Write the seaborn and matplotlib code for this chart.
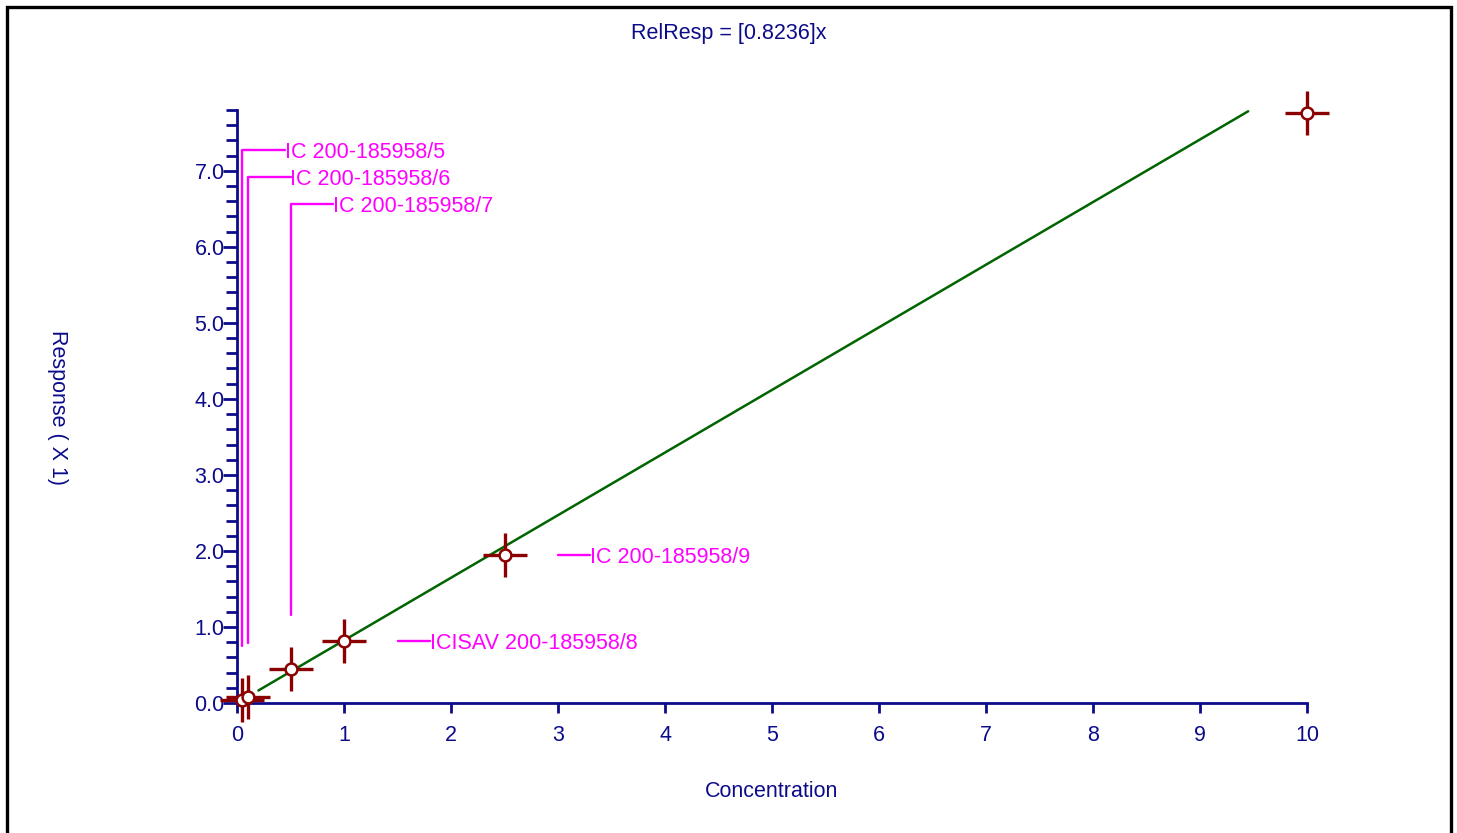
import numpy as np
import matplotlib
matplotlib.use('Agg')
import matplotlib.pyplot as plt
import seaborn as sns
from matplotlib.patches import Rectangle
from matplotlib.ticker import MultipleLocator

# calibration points
conc = [0.05, 0.1, 0.5, 1.0, 2.5, 10.0]
resp = [0.04, 0.08, 0.45, 0.81, 1.95, 7.76]
names = ['IC 200-185958/5', 'IC 200-185958/6', 'IC 200-185958/7',
         'ICISAV 200-185958/8', 'IC 200-185958/9', '']
# height of the label for the points that get a vertical leader
label_top = [7.27, 6.92, 6.57]

slope = 0.8236
fit_x = [0.2, 9.45]
fit_y = [slope * v for v in fit_x]

navy = '#0c0c8a'
fs = 15.5
sns.set_style('white')
plt.rcParams['font.family'] = ['Liberation Sans', 'DejaVu Sans']
plt.rcParams['font.size'] = fs

fig = plt.figure(figsize=(14.57, 8.33), dpi=100)
ax = fig.add_axes([237 / 1457, 130 / 833, 1070 / 1457, 593 / 833])

sns.lineplot(x=fit_x, y=fit_y, ax=ax, color='#006400', lw=1.8)

# crosshair + open circle markers
ax.plot(conc, resp, ls='none', marker='+', ms=31, mew=2.4, color='#8b0000', clip_on=False, zorder=4)
ax.plot(conc, resp, ls='none', marker='o', ms=8.5, mew=1.8, mfc='white', mec='#8b0000', clip_on=False, zorder=5)

mag = '#ff00ff'
for i, name in enumerate(names):
    if not name:
        continue
    if i < len(label_top):
        top = label_top[i]
        ax.plot([conc[i], conc[i], conc[i] + 0.4], [resp[i] + 0.71, top, top], color=mag, lw=1.7)
        ax.text(conc[i] + 0.4, top, name, color=mag, va='center_baseline', ha='left', fontsize=fs)
    else:
        ax.plot([conc[i] + 0.5, conc[i] + 0.8], [resp[i], resp[i]], color=mag, lw=1.7)
        ax.text(conc[i] + 0.8, resp[i], name, color=mag, va='center_baseline', ha='left', fontsize=fs)

ax.set_xlim(0, 10)
ax.set_ylim(0, 7.8)
ax.set_xticks(range(0, 11))
ax.yaxis.set_major_locator(MultipleLocator(1.0))
ax.yaxis.set_minor_locator(MultipleLocator(0.2))
ax.yaxis.set_major_formatter(matplotlib.ticker.FormatStrFormatter('%.1f'))
ax.tick_params(axis='x', bottom=True, direction='out', length=7, width=2, color=navy, labelcolor=navy, labelsize=fs, pad=9)
ax.tick_params(axis='y', which='major', left=True, direction='out', length=10, width=2, color=navy, labelcolor=navy, labelsize=fs, pad=-1)
ax.tick_params(axis='y', which='minor', left=True, direction='out', length=8, width=2, color=navy)
for s in ['top', 'right']:
    ax.spines[s].set_visible(False)
for s in ['left', 'bottom']:
    ax.spines[s].set_color(navy)
    ax.spines[s].set_linewidth(2)

ax.set_xlabel('Concentration', color=navy, fontsize=fs, labelpad=25)
fig.text(57 / 1457, 1 - 408 / 833, 'Response ( X 1)', rotation=270, color=navy,
         fontsize=fs, ha='center', va='center')
fig.text(0.5, 1 - 33 / 833, 'RelResp = [0.8236]x', color=navy, fontsize=fs, ha='center', va='center')

fig.patches.append(Rectangle((6.5 / 1457, -0.05), (1451 - 6.5) / 1457, 1.05 - 7 / 833,
                             transform=fig.transFigure, fill=False, ec='black', lw=2.4))

fig.savefig('out.png', dpi=100)
